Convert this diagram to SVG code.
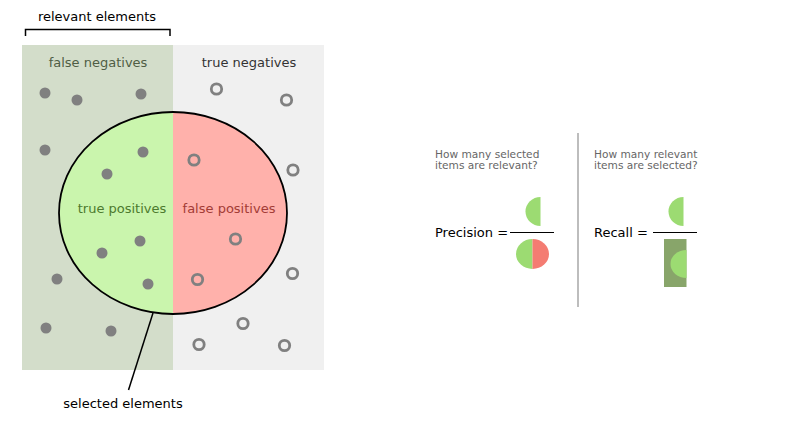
<svg xmlns="http://www.w3.org/2000/svg" width="789" height="434" viewBox="0 0 789 434">
<style>
text{font-family:"DejaVu Sans",sans-serif}
.dot{fill:#808080}
.ring{fill:none;stroke:#808080;stroke-width:2.8}
.lbl{font-size:13px;text-anchor:middle}
.q{font-size:10.6px;fill:#666}
.eq{font-size:13px;fill:#000}
</style>
<rect width="789" height="434" fill="#fff"/>
<g id="relevant-bracket">
<path d="M25.5 36V29.5H170V36" fill="none" stroke="#000" stroke-width="1.5"/>
<text x="97" y="21" class="lbl" fill="#000">relevant elements</text>
</g>
<g id="false-negatives">
<rect x="22" y="45" width="151" height="325" fill="#d3ddca"/>
<text x="98" y="67" class="lbl" fill="#4f5d45">false negatives</text>
</g>
<g id="true-negatives">
<rect x="173" y="45" width="151" height="325" fill="#f0f0f0"/>
<text x="249" y="67" class="lbl" fill="#333">true negatives</text>
</g>
<g id="selected-ellipse">
<path d="M173 112A114 101 0 0 0 173 314Z" fill="#caf5ad"/>
<path d="M173 112A114 101 0 0 1 173 314Z" fill="#ffb1ab"/>
<ellipse cx="173" cy="213" rx="114" ry="101" fill="none" stroke="#000" stroke-width="1.8"/>
<text x="122" y="213" class="lbl" fill="#4d7a2e">true positives</text>
<text x="229" y="213" class="lbl" fill="#a33c36">false positives</text>
</g>
<g id="relevant-items">
<circle class="dot" cx="45" cy="93" r="5.5"/>
<circle class="dot" cx="77" cy="100" r="5.5"/>
<circle class="dot" cx="141" cy="94" r="5.5"/>
<circle class="dot" cx="45" cy="150" r="5.5"/>
<circle class="dot" cx="143" cy="152" r="5.5"/>
<circle class="dot" cx="107" cy="174" r="5.5"/>
<circle class="dot" cx="140" cy="241" r="5.5"/>
<circle class="dot" cx="102" cy="253" r="5.5"/>
<circle class="dot" cx="148" cy="284" r="5.5"/>
<circle class="dot" cx="57" cy="279" r="5.5"/>
<circle class="dot" cx="46" cy="328" r="5.5"/>
<circle class="dot" cx="111" cy="331" r="5.5"/>
</g>
<g id="irrelevant-items">
<circle class="ring" cx="216.5" cy="89" r="5.2"/>
<circle class="ring" cx="286.5" cy="100" r="5.2"/>
<circle class="ring" cx="194" cy="160" r="5.2"/>
<circle class="ring" cx="293" cy="170" r="5.2"/>
<circle class="ring" cx="235.5" cy="239" r="5.2"/>
<circle class="ring" cx="197.5" cy="279.5" r="5.2"/>
<circle class="ring" cx="292.5" cy="273.5" r="5.2"/>
<circle class="ring" cx="243" cy="323.5" r="5.2"/>
<circle class="ring" cx="199" cy="344.5" r="5.2"/>
<circle class="ring" cx="284.5" cy="345.5" r="5.2"/>
</g>
<g id="connectors">
<line x1="153" y1="313" x2="128.5" y2="390" stroke="#000" stroke-width="1.5"/>
</g>
<g id="selected-label">
<text x="123" y="408" class="lbl" fill="#000">selected elements</text>
</g>
<g id="divider">
<line x1="578" y1="133" x2="578" y2="307" stroke="#bdbdbd" stroke-width="2"/>
</g>
<g id="precision">
<text x="435" y="158" class="q">How many selected</text>
<text x="435" y="169" class="q">items are relevant?</text>
<text x="435" y="237" class="eq">Precision =</text>
<line x1="510" y1="232.5" x2="554" y2="232.5" stroke="#000" stroke-width="1"/>
<path d="M540.5 197A15 14.5 0 0 0 540.5 226Z" fill="#9cdb72"/>
<path d="M532.5 239A16.5 15 0 0 0 532.5 269Z" fill="#9cdb72"/>
<path d="M532.5 239A16.5 15 0 0 1 532.5 269Z" fill="#f47c72"/>
</g>
<g id="recall">
<text x="594" y="158" class="q">How many relevant</text>
<text x="594" y="169" class="q">items are selected?</text>
<text x="594" y="237" class="eq">Recall =</text>
<line x1="653" y1="232.5" x2="697" y2="232.5" stroke="#000" stroke-width="1"/>
<path d="M683.5 197A15 14.5 0 0 0 683.5 226Z" fill="#9cdb72"/>
<rect x="664" y="239" width="22.5" height="48" fill="#88a56a"/>
<path d="M686.5 250A16 14 0 0 0 686.5 278Z" fill="#9cdb72"/>
</g>
</svg>
